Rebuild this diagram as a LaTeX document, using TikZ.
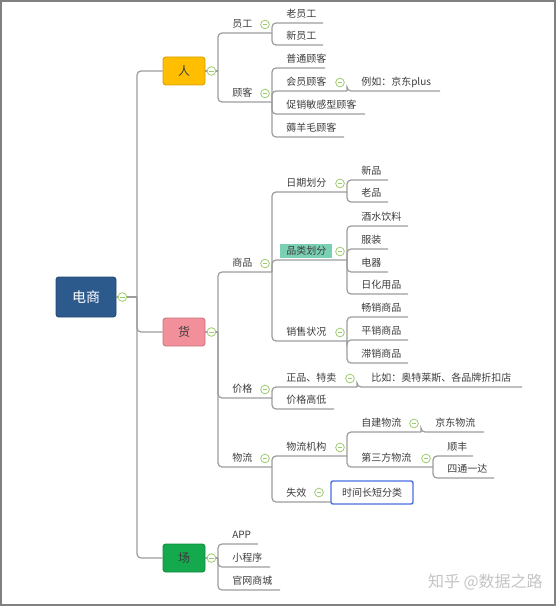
\documentclass[tikz,border=0pt]{standalone}
\usepackage{fontspec}
\newfontfamily\cjk{Noto Sans CJK SC}
\usetikzlibrary{calc}

\definecolor{linegray}{HTML}{9C9C9C}
\definecolor{txtgray}{HTML}{3C3C3C}
\definecolor{toggreen}{HTML}{9CCB6B}
\definecolor{framegray}{HTML}{808080}
\definecolor{dsblue}{HTML}{2D5A8C}
\definecolor{dsborder}{HTML}{24496F}
\definecolor{rengold}{HTML}{FFBE00}
\definecolor{renborder}{HTML}{D49E00}
\definecolor{huopink}{HTML}{F1909A}
\definecolor{huoborder}{HTML}{C8727B}
\definecolor{changgreen}{HTML}{14A94C}
\definecolor{changborder}{HTML}{0E8A3C}
\definecolor{plteal}{HTML}{7BD0B4}
\definecolor{boxblue}{HTML}{4A6FE3}
\definecolor{wmgray}{HTML}{C4C4C4}

\tikzset{
  conn/.style={draw=linegray, line width=0.9pt, rounded corners=3pt},
  leaf/.style={font=\cjk\fontsize{7.5}{9}\selectfont, text=txtgray, anchor=base west, inner sep=0pt},
  tog/.style={circle, draw=toggreen, fill=white, line width=0.6pt, inner sep=0pt, minimum size=6.5pt,
    path picture={\draw[toggreen, line width=0.6pt] ([xshift=-1.8pt]path picture bounding box.center) -- ([xshift=1.8pt]path picture bounding box.center);}},
  topbox/.style={draw, rounded corners=2pt, line width=0.6pt, minimum width=31.5pt, minimum height=21pt,
    inner sep=0pt, font=\cjk\fontsize{9}{10}\selectfont, text=txtgray},
}

\begin{document}
\begin{tikzpicture}[x=0.75pt, y=-0.75pt]
  \useasboundingbox (0,0) rectangle (556,606);
  \draw[framegray, line width=1.5pt] (1,1) rectangle (555,605);

  % Main boxes
  \node[topbox, fill=dsblue, draw=dsborder, minimum width=45pt, minimum height=30pt, text=white,
    font=\cjk\fontsize{10.5}{12}\selectfont] (ds) at (86,297) {电商};
  \node[topbox, fill=rengold, draw=renborder] (ren) at (184,71) {人};
  \node[topbox, fill=huopink, draw=huoborder] (huo) at (184,332) {货};
  \node[topbox, fill=changgreen, draw=changborder] (chang) at (184,558) {场};
  \coordinate (ds-e) at (137,297);
  \coordinate (ren-e) at (218,71);
  \coordinate (huo-e) at (218,332);
  \coordinate (chang-e) at (218,558);

  % Topics: name / bracket x / underline y / underline end / text
  \foreach \nm/\bx/\uy/\ex/\txt in {
    yg/218/33/272/员工, gk/218/102/272/顾客,
    lyg/272/23/323/老员工, xyg/272/45/323/新员工,
    pt/272/68/325/普通顾客, hy/272/91/347/会员顾客,
    cx/272/114/365/促销敏感型顾客, ym/272/137/344/薅羊毛顾客,
    jd/347/91/440/例如：京东plus,
    sp/218/272/272/商品, jg/218/398/272/价格, wl/218/467/272/物流,
    rq/272/192/347/日期划分, xs/272/341/347/销售状况,
    xp/347/180/388/新品, lp/347/202/388/老品,
    js/347/226/408/酒水饮料, fz/347/249/388/服装, dq/347/272/388/电器, rh/347/294/408/日化用品,
    cs/347/317/408/畅销商品, ps/347/340/408/平销商品, zx/347/363/408/滞销商品,
    zp/272/387/357/正品、特卖, gd/272/409/334/价格高低,
    ot/357/387/522/比如：奥特莱斯、各品牌折扣店,
    jgou/272/456/347/物流机构, sx/272/502/331/失效,
    zj/347/432/421/自建物流, jdwl/421/432/484/京东物流,
    dsf/347/467/433/第三方物流,
    sf/433/456/473/顺丰, st/433/478/494/四通一达,
    app/218/544/258/APP, xcx/218/567/270/小程序, gw/218/590/280/官网商城}
  {
    \node[leaf] (\nm) at (\bx+14,\uy-5.5) {\txt};
    \coordinate (\nm-e) at (\ex,\uy);
  }

  % Highlighted and boxed topics
  \node[leaf, fill=plteal, inner xsep=4.5pt, inner ysep=1.5pt, xshift=-4.5pt,
    text height=6.5pt, text depth=1pt] (pl) at (286,254.5) {品类划分};
  \coordinate (pl-e) at (347,260);
  \node[draw=boxblue, line width=1.1pt, rounded corners=1.5pt, fill=white, minimum width=61.5pt,
    minimum height=17.25pt, inner sep=0pt, font=\cjk\fontsize{7.5}{9}\selectfont, text=txtgray]
    (sj) at (372,492.5) {时间长短分类};

  % Connectors
  \foreach \c in {ren,huo,chang}
    \draw[conn] (ds-e) |- (\c.west);
  \foreach \b in {ds,ren,huo,chang}
    \draw[conn] (\b.east) -- (\b-e);
  \foreach \p/\c in {ren/yg, ren/gk, yg/lyg, yg/xyg, gk/pt, gk/hy, gk/cx, gk/ym, hy/jd,
    huo/sp, huo/jg, huo/wl, sp/rq, sp/pl, sp/xs, rq/xp, rq/lp,
    pl/js, pl/fz, pl/dq, pl/rh, xs/cs, xs/ps, xs/zx, jg/zp, jg/gd, zp/ot,
    wl/jgou, wl/sx, jgou/zj, jgou/dsf, zj/jdwl, dsf/sf, dsf/st,
    chang/app, chang/xcx, chang/gw}
    \draw[conn] (\p-e) |- (\c-e);

  % Collapse marks
  \foreach \b in {ds,ren,huo,chang}
    \node[tog] at ([xshift=4.5pt]\b.east) {};
  \foreach \nm in {yg,gk,hy,sp,jg,wl,rq,pl,xs,zp,jgou,zj,dsf}
    \node[tog] at ([shift={(-7,-8.5)}]\nm-e) {};
  \node[tog] at (319,492.5) {};

  % Watermark
  \node[font=\cjk\fontsize{12}{14}\selectfont, text=wmgray, anchor=east, inner sep=0pt] (wm) at (543,582) {知乎 @数据之路};
\end{tikzpicture}
\end{document}
